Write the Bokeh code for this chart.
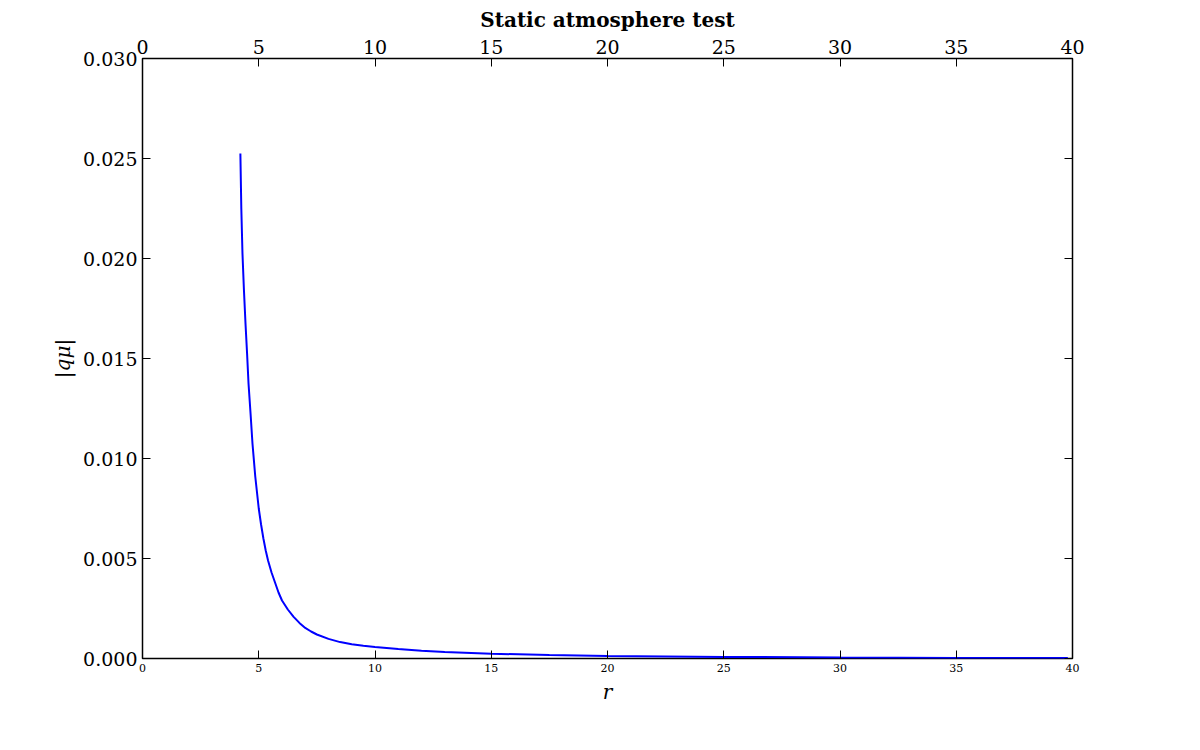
from bokeh.plotting import figure
from bokeh.models import LinearAxis, FixedTicker, Range1d
from bokeh.embed import file_html
from bokeh.resources import INLINE

# values
r = [4.21, 4.25, 4.3, 4.36, 4.43, 4.5, 4.56, 4.65, 4.73, 4.85, 5.0, 5.1, 5.2, 5.3, 5.4,
     5.55, 5.7, 5.85, 6.0, 6.25, 6.5, 6.75, 7.0, 7.25, 7.5, 8.0, 8.5, 9.0, 9.5, 10.0,
     11.0, 12.0, 13.0, 15.0, 17.5, 20.0, 25.0, 30.0, 35.0, 39.8]
q = [0.02525, 0.0225, 0.02025, 0.0185, 0.01675, 0.0152, 0.01375, 0.0122, 0.01075,
     0.0091, 0.0075, 0.0067, 0.0060, 0.0054, 0.0049, 0.0043, 0.0038, 0.0033,
     0.00290, 0.00245, 0.00208, 0.00178, 0.00153, 0.00135, 0.00120, 0.00098,
     0.00082, 0.00071, 0.00064, 0.00058, 0.00047, 0.00039, 0.00032, 0.00024,
     0.00017, 0.00013, 0.00008, 0.00005, 0.00003, 0.00002]

x_ticks = [0, 5, 10, 15, 20, 25, 30, 35, 40]
y_ticks = [0.0, 0.005, 0.01, 0.015, 0.02, 0.025, 0.03]
y_labels = {0.0: "0.000", 0.005: "0.005", 0.01: "0.010", 0.015: "0.015",
            0.02: "0.020", 0.025: "0.025", 0.03: "0.030"}

FONT = "DejaVu Serif"

p = figure(frame_width=930, frame_height=600, output_backend="svg",
           toolbar_location=None, x_range=Range1d(0, 40), y_range=Range1d(0, 0.03),
           title="Static atmosphere test", min_border_left=142, min_border_top=50,
           min_border_right=112, min_border_bottom=40)
p.line(r, q, line_color="#0000ff", line_width=2)

p.title.align = "center"
p.title.text_font = FONT
p.title.text_font_size = "20px"
p.title.text_font_style = "bold"
p.title.text_color = "black"
p.grid.visible = False
p.outline_line_color = "black"
p.outline_line_width = 1.5
p.background_fill_color = "white"
p.border_fill_color = "white"

p.xaxis.axis_label = "r"
p.yaxis.axis_label = "|qμ|"
right = LinearAxis(major_label_text_font_size="0px")
top = LinearAxis(major_label_text_font_size="0px")
p.add_layout(right, "right")
p.add_layout(top, "above")

for ax in p.axis:
    ax.ticker = FixedTicker(ticks=x_ticks if ax in p.xaxis else y_ticks)
    ax.major_tick_in = 8
    ax.major_tick_out = 0
    ax.major_tick_line_color = "black"
    ax.minor_tick_line_color = None
    ax.axis_line_color = None
    ax.major_label_text_font = FONT
    ax.major_label_text_color = "black"
    ax.axis_label_text_font = FONT
    ax.axis_label_text_color = "black"
    ax.axis_label_text_font_size = "20px"
    ax.axis_label_text_font_style = "italic"

for ax in (p.xaxis[0], p.yaxis[0]):
    ax.major_label_text_font_size = "19px"
p.yaxis[0].major_label_overrides = y_labels

open("out.html", "w").write(file_html(p, INLINE))
